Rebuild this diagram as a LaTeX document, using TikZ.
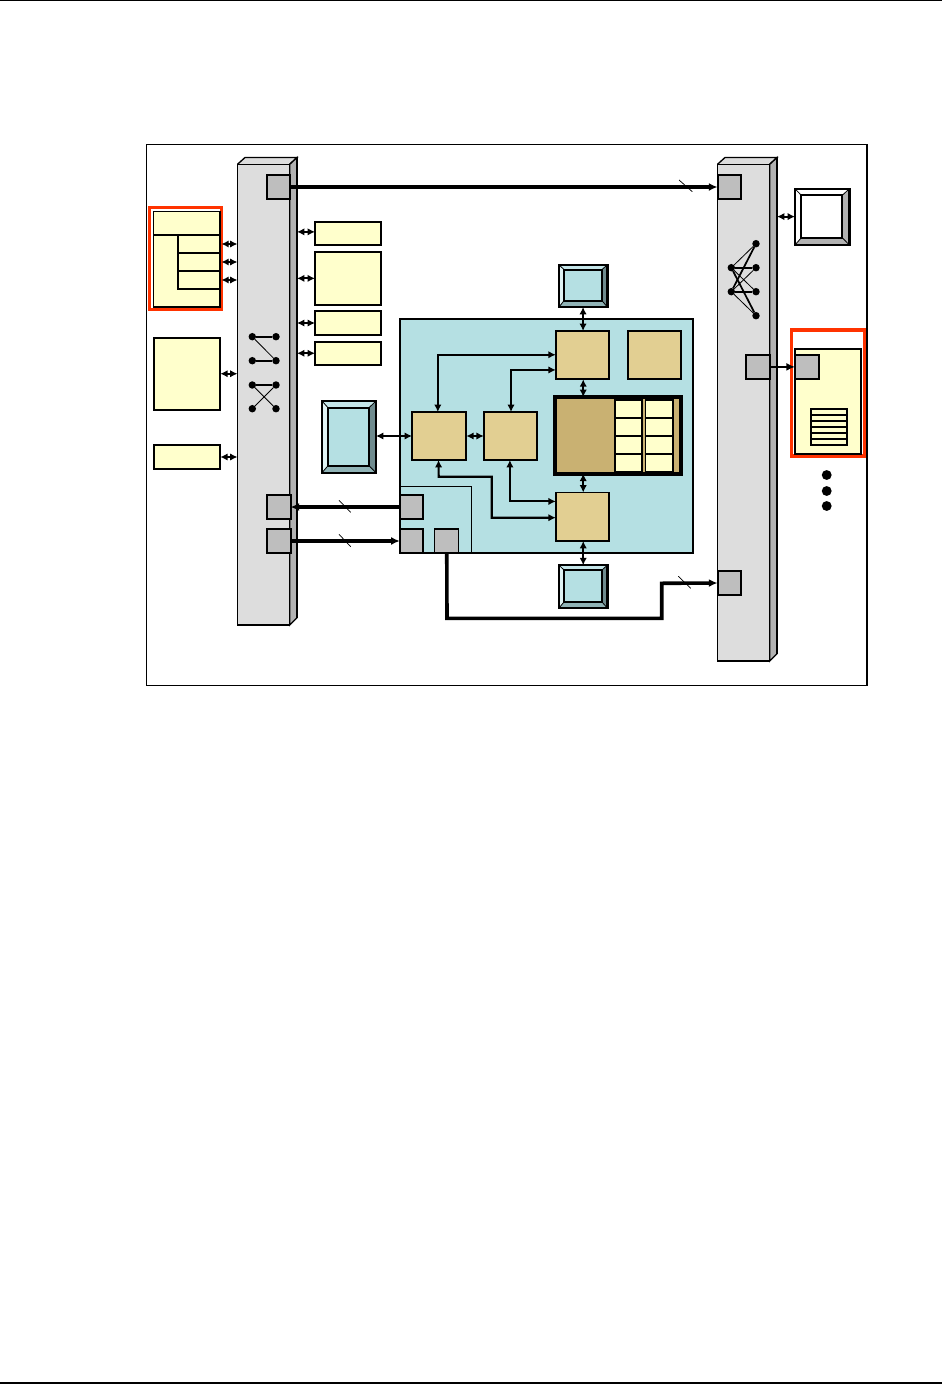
\documentclass[tikz,border=0pt]{standalone}
\usetikzlibrary{arrows.meta,calc}
\definecolor{cyel}{HTML}{FFFFCC}
\definecolor{ctan}{HTML}{E2CF92}
\definecolor{cdark}{HTML}{C9B172}
\definecolor{cblue}{HTML}{B5E0E3}
\definecolor{cgray}{HTML}{BEBEBE}
\definecolor{cbar}{HTML}{DDDDDD}
\definecolor{cside}{HTML}{B2B2B2}
\definecolor{cred}{HTML}{FF3300}
\definecolor{btop}{HTML}{C5E6E9}
\definecolor{bleft}{HTML}{E0F3F4}
\definecolor{bright}{HTML}{6F8B8E}
\definecolor{bbot}{HTML}{90B3B6}
\tikzset{
  base/.style={inner sep=0pt,outer sep=0pt,line width=1.5pt,draw=black},
  yel/.style={base,fill=cyel},
  tanbox/.style={base,fill=ctan,line width=1.3pt},
  graybox/.style={base,fill=cgray},
  thingray/.style={base,fill=cgray,line width=0.9pt},
  redbox/.style={base,draw=cred,line width=2.4pt},
  framebox/.style={base,line width=0.8pt},
  cell/.style={base,fill=cyel,line width=1.3pt},
  wire/.style={line width=1.8pt,line join=miter},
  dbl/.style={line width=1.6pt,{Latex[length=5.5pt,width=5.5pt]}-{Latex[length=5.5pt,width=5.5pt]}},
  bus/.style={line width=2.7pt},
  tip/.style={-{Latex[length=6.5pt,width=6pt]}},
  slash/.style={line width=0.55pt},
  hair/.style={line width=0.6pt},
  dotn/.style={circle,fill=black,inner sep=0pt,outer sep=0pt,minimum size=5.6pt},
  bigdot/.style={circle,fill=black,inner sep=0pt,outer sep=0pt,minimum size=7.4pt},
}
\newcommand{\bx}[6]{%
  \pgfmathsetmacro{\bw}{(#5-#3)*0.75}\pgfmathsetmacro{\bh}{(#6-#4)*0.75}%
  \node[#2,minimum width=\bw pt,minimum height=\bh pt] (#1) at ({(#3+#5)/2},{(#4+#6)/2}) {};}
% name, outer x1 y1 x2 y2, inner x1 y1 x2 y2 (colours set by \setmon)
\newcommand{\setmon}[5]{\colorlet{mface}{#1}\colorlet{mtop}{#2}\colorlet{mleft}{#3}\colorlet{mright}{#4}\colorlet{mbot}{#5}}
\newcommand{\monitor}[9]{%
  \fill[mtop] (#2,#3)--(#4,#3)--(#8,#7)--(#6,#7)--cycle;
  \fill[mleft] (#2,#3)--(#6,#7)--(#6,#9)--(#2,#5)--cycle;
  \fill[mright] (#4,#3)--(#8,#7)--(#8,#9)--(#4,#5)--cycle;
  \fill[mbot] (#2,#5)--(#6,#9)--(#8,#9)--(#4,#5)--cycle;
  \draw[hair] (#2,#3)--(#6,#7) (#4,#3)--(#8,#7) (#2,#5)--(#6,#9) (#4,#5)--(#8,#9);
  \bx{#1}{base,line width=1.8pt}{#2}{#3}{#4}{#5}
  \bx{#1i}{base,fill=mface,line width=1.5pt}{#6}{#7}{#8}{#9}}
\begin{document}
\begin{tikzpicture}[x=0.75pt,y=-0.75pt]
\useasboundingbox (0,0) rectangle (942,1384);
\fill[white] (0,0) rectangle (942,1384);
% page rules
\coordinate (hl) at (0,0.5); \coordinate (hr) at (942,0.5);
\coordinate (fl) at (0,1383); \coordinate (fr) at (942,1383);
\draw[line width=0.8pt] (hl)--(hr);
\draw[line width=1.5pt] (fl)--(fr);
% frame
\bx{frame}{framebox}{146.7}{144.5}{867}{685.5}
% left bar
\fill[cbar] (237.5,164.3)--(245,157.5)--(297,157.5)--(289.7,164.3)--cycle;
\draw[line width=1pt] (237.5,164.3)--(245,157.5)--(297,157.5)--(289.7,164.3);
\filldraw[fill=cside,line width=1pt] (289.7,164.3)--(297,157.5)--(297,617.7)--(289.7,625)--cycle;
\draw[line width=1.5pt] (297,157.5)--(297,617.7);
\bx{barL}{base,fill=cbar,line width=1.1pt}{237.5}{164.3}{289.7}{625}
\coordinate (barLe) at (297,400);
% right bar
\fill[cbar] (717.5,164.3)--(725,157.5)--(777,157.5)--(769.7,164.3)--cycle;
\draw[line width=1pt] (717.5,164.3)--(725,157.5)--(777,157.5)--(769.7,164.3);
\filldraw[fill=cside,line width=1pt] (769.7,164.3)--(777,157.5)--(777,653.7)--(769.7,661)--cycle;
\draw[line width=1.5pt] (777,157.5)--(777,653.7);
\bx{barR}{base,fill=cbar,line width=1.1pt}{717.5}{164.3}{769.7}{661}
\coordinate (barRe) at (777,400);
% left yellow group
\bx{redA}{redbox}{149.5}{207.5}{221.4}{309.2}
\bx{ya}{yel,line width=1.3pt}{153.5}{211.5}{220}{307}
\draw[line width=1.3pt] (ya.west |- 0,235) -- (ya.east |- 0,235);
\bx{ya1}{cell}{178.3}{235}{220}{253}
\bx{ya2}{cell}{178.3}{253}{220}{271}
\bx{ya3}{cell}{178.3}{271}{220}{289}
\bx{yb}{yel}{153.7}{338}{220.3}{410}
\bx{yc}{yel}{153.7}{445}{220.3}{469}
\draw[dbl] (redA.east |- ya1.east) -- (ya1.east -| barL.west);
\draw[dbl] (redA.east |- ya2.east) -- (ya2.east -| barL.west);
\draw[dbl] (redA.east |- ya3.east) -- (ya3.east -| barL.west);
\draw[dbl] ([yshift=0.2pt]yb.east) -- ([yshift=0.2pt]yb.east -| barL.west);
\draw[dbl] (yc.east) -- (yc.east -| barL.west);
% right of left bar
\bx{r1}{yel}{315}{221.7}{381.3}{245}
\bx{r2}{yel}{315}{251.7}{381.3}{305}
\bx{r3}{yel}{315}{311}{381.3}{335}
\bx{r4}{yel}{315}{341.5}{381.3}{365}
\draw[dbl] (barLe |- r1.west) ++(0,-1.5) -- ++(18,0);
\draw[dbl] (barLe |- r2.west) -- (r2.west);
\draw[dbl] (barLe |- r3.west) -- (r3.west);
\draw[dbl] (barLe |- r4.west) -- (r4.west);
% switches
\node[dotn] (s1) at (252.3,336.7) {}; \node[dotn] (s2) at (276,336.7) {};
\node[dotn] (s3) at (252.3,360.7) {}; \node[dotn] (s4) at (276,360.7) {};
\draw[wire] (s1)--(s2); \draw[wire] (s3)--(s4); \draw[hair] (s1)--(s4);
\node[dotn] (t1) at (252.3,385) {}; \node[dotn] (t2) at (276,385) {};
\node[dotn] (t3) at (252.3,408.7) {}; \node[dotn] (t4) at (276,408.7) {};
\draw[wire] (t1)--(t2); \draw[hair] (t1)--(t4); \draw[hair] (t2)--(t3);
% left bar ports
\bx{pa}{graybox}{266.5}{175.3}{290.3}{199.3}
\bx{pb}{graybox}{266.5}{495}{290.5}{519}
\bx{pc}{graybox}{266.5}{528.8}{290.5}{552.5}
% blue block
\bx{blue}{base,fill=cblue,line width=1.6pt}{399.8}{319}{693}{552.7}
\draw[line width=1.1pt] (blue.west |- 0,486.7) coordinate (subA) -- (471.7,486.7) coordinate (subB) -- (subB |- blue.south);
\bx{qa}{graybox}{399.8}{495}{423.3}{519}
\bx{qb}{graybox}{399.8}{529}{423.3}{552.7}
\bx{qc}{thingray}{434.8}{529}{458.7}{552.7}
% tan boxes
\bx{tt}{tanbox}{555.8}{331}{609.3}{379.3}
\bx{tr}{tanbox}{627.8}{331}{681.3}{379.3}
\bx{tl}{tanbox,line width=1.6pt}{412}{412}{466.3}{460}
\bx{tm}{tanbox}{483.8}{412}{537.3}{460}
\bx{tb}{tanbox}{555.8}{492.5}{609.3}{541}
% big dark block
\bx{big}{base,fill=cdark,line width=2.8pt}{555}{397}{681}{473.7}
\bx{c1}{cell}{615}{400}{642}{418}
\bx{c2}{cell}{615}{418}{642}{436}
\bx{c3}{cell}{615}{436}{642}{454}
\bx{c4}{cell}{615}{454}{642}{472}
\bx{d1}{cell}{645.5}{400}{672.7}{418}
\bx{d2}{cell}{645.5}{418}{672.7}{436}
\bx{d3}{cell}{645.5}{436}{672.7}{454}
\bx{d4}{cell}{645.5}{454}{672.7}{472}
% monitors
\setmon{cblue}{btop}{bleft}{bright}{bbot}
\monitor{mt}{559}{265}{607.3}{307}{564}{269.5}{602}{300.7}
\monitor{mb}{559}{565.2}{607.3}{608}{564}{570}{602}{602}
\monitor{ml}{322}{401}{376}{472.7}{328}{407.7}{369}{465.7}
\setmon{white}{white}{white}{cside}{cside}
\monitor{mw}{795}{188.8}{849.3}{245}{801.3}{195.3}{842.3}{237.7}
% inner connectors
\draw[dbl] (mt.south -| tt.north) ++(0.5,0) -- ++(0,24);
\draw[dbl] ([xshift=0.5pt]tt.south) -- ([xshift=0.5pt]tt.south |- big.north);
\draw[dbl] ([xshift=0.5pt]tt.south |- big.south) -- ([xshift=0.5pt]tb.north);
\draw[dbl] ([xshift=0.5pt]tb.south) -- ([xshift=0.5pt]tb.south |- mb.north);
\draw[dbl] (ml.east |- tl.west) -- (tl.west);
\draw[dbl] (tl.east) -- (tm.west);
\draw[dbl] ([xshift=-1pt]tl.north) |- ([yshift=0.3pt]tt.west);
\draw[dbl] ([xshift=0.35pt]tm.north) |- ([yshift=-11.1pt]tt.west);
\draw[dbl] ([xshift=-0.5pt]tl.south) -- (438.7,476.7) coordinate (la) -- (491.7,476.7) coordinate (lb) -- (491.7,517.7) coordinate (lc) -- (lc -| tb.west);
\draw[dbl] ([xshift=-0.5pt]tm.south) |- ([yshift=11.5pt]tb.west);
% links between blocks
\draw[bus,tip] ([yshift=0.22pt]pa.east) -- ([yshift=0.22pt]pa.east -| barR.west);
\draw[bus,tip] (qa.west) -- (qa.west -| pb.east);
\draw[bus,tip] ([yshift=-0.26pt]pc.east) -- ([yshift=-0.26pt]pc.east -| qb.west);
\coordinate (rise) at (661.7,583.3);
\bx{pr2}{graybox}{717.5}{571}{741.3}{595}
\draw[bus,tip] (qc.south) -- (447,618.3) -- (661.7,618.3) -- (rise) -- (pr2.west);
\bx{pr1}{graybox}{717.5}{175.3}{741.3}{199.3}
\draw[slash] (679,180)--(692.3,191.7);
\draw[slash] (339,500.3)--(350.7,512.3);
\draw[slash] (339,534.3)--(350.7,546.7);
\draw[slash] (678.3,576.3)--(690.7,588.3);
% right side
\draw[dbl] (barRe |- mw.west) ++(0,-0.3) -- ++(18,0);
\node[dotn] (n1) at (756,243.7) {};
\node[dotn] (n2) at (731.3,267.7) {};
\node[dotn] (n3) at (756,267.7) {};
\node[dotn] (n4) at (731.3,291.7) {};
\node[dotn] (n5) at (756,291.7) {};
\node[dotn] (n6) at (756,315.7) {};
\draw[wire] (n2)--(n3); \draw[wire] (n4)--(n5);
\draw[line width=1.3pt] (n4)--(n1); \draw[line width=1.3pt] (n2)--(n6);
\draw[hair] (n2)--(n1) (n2)--(n5) (n4)--(n3) (n4)--(n6);
\bx{redB}{redbox}{791.5}{330}{864.2}{456}
\bx{yr}{yel}{795}{349}{861.3}{454.3}
\bx{pd}{graybox}{746}{354.8}{770.3}{379}
\bx{pe}{graybox}{795}{354.8}{819.3}{379}
\draw[bus,line width=2pt,tip] (pd.east) -- (pe.west);
\bx{lst}{yel,line width=1.4pt}{811}{409}{847.3}{445}
\foreach \yy in {414.8,420.8,426.8,432.8,439}{\draw[line width=1.1pt] (lst.west |- 0,\yy) -- (lst.east |- 0,\yy);}
\node[bigdot] (e1) at (826.7,475) {};
\node[bigdot] (e2) at (826.7,491) {};
\node[bigdot] (e3) at (826.7,506) {};
\end{tikzpicture}
\end{document}
